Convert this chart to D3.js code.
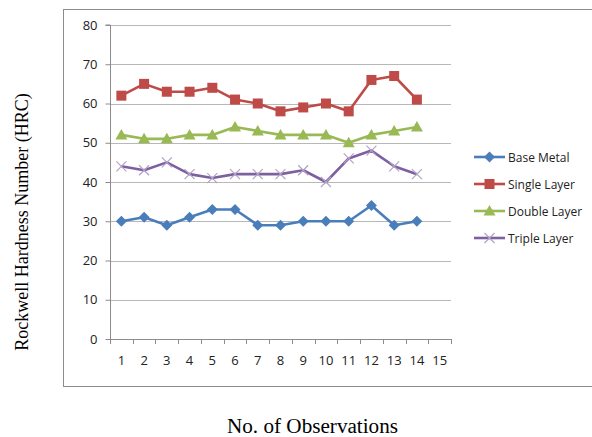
<!DOCTYPE html>
<html><head><meta charset="utf-8">
<script src="https://cdn.jsdelivr.net/npm/d3@7"></script>
<style>body{margin:0;background:#fff}svg{display:block}</style>
</head><body>
<svg id="c" width="592" height="437"></svg>
<script>
const categories = ["1","2","3","4","5","6","7","8","9","10","11","12","13","14","15"];
const yTicks = [0,10,20,30,40,50,60,70,80];
const seriesNames = ["Base Metal","Single Layer","Double Layer","Triple Layer"];
const baseMetal = [30,31,29,31,33,33,29,29,30,30,30,34,29,30];
const singleLayer = [62,65,63,63,64,61,60,58,59,60,58,66,67,61];
const doubleLayer = [52,51,51,52,52,54,53,52,52,52,50,52,53,54];
const tripleLayer = [44,43,45,42,41,42,42,42,43,40,46,48,44,42];

const series = [
  {name: seriesNames[0], values: baseMetal, color: "#4a7ebb", mcolor: "#4a7ebb", marker: "diamond"},
  {name: seriesNames[1], values: singleLayer, color: "#be4b48", mcolor: "#be4b48", marker: "square"},
  {name: seriesNames[2], values: doubleLayer, color: "#98b954", mcolor: "#98b954", marker: "triangle"},
  {name: seriesNames[3], values: tripleLayer, color: "#7d60a0", mcolor: "#b3a2c7", marker: "x"}
];

const svg = d3.select("#c");
svg.append("rect").attr("x",63.5).attr("y",9.5).attr("width",560).attr("height",377)
  .attr("fill","none").attr("stroke","#8c8c8c").attr("stroke-width",1);

const L=110, R=451, T=25, B=339;
const x = d3.scaleBand().domain(categories).range([L,R]);
const y = d3.scaleLinear().domain([0,80]).range([B,T]);
const tickFont = "'Open Sans', 'Liberation Sans', sans-serif";

svg.append("g").selectAll("line").data(yTicks.filter(d=>d>0)).join("line")
  .attr("x1",L).attr("x2",R).attr("y1",d=>Math.round(y(d))+0.5).attr("y2",d=>Math.round(y(d))+0.5)
  .attr("stroke","#b8b8b8");

const ya = svg.append("g").attr("transform",`translate(${L+0.5},0)`)
  .call(d3.axisLeft(y).tickValues(yTicks).tickSize(5).tickPadding(8));
ya.select(".domain").attr("stroke","#8c8c8c").attr("d",`M-5,${T}H0V${B}`);
ya.selectAll(".tick line").attr("stroke","#8c8c8c");
ya.selectAll(".tick text").attr("font-family",tickFont).attr("font-size","13px").attr("fill","#222");

const xa = svg.append("g").attr("transform",`translate(0,${B+0.5})`)
  .call(d3.axisBottom(x).tickSize(0).tickPadding(16));
xa.select(".domain").attr("stroke","#8c8c8c").attr("d",`M${L},0H${R}`);
xa.selectAll(".tick text").attr("font-family",tickFont).attr("font-size","13px").attr("fill","#222");
svg.append("g").selectAll("line").data(categories.concat(["end"])).join("line")
  .attr("x1",(d,i)=>Math.round(L+i*x.bandwidth())+0.5).attr("x2",(d,i)=>Math.round(L+i*x.bandwidth())+0.5)
  .attr("y1",B).attr("y2",B+5).attr("stroke","#8c8c8c");

const cx = i => x(categories[i]) + x.bandwidth()/2;

function drawMarker(g, type, px, py, col){
  if(type==="diamond"){
    g.append("path").attr("d",`M${px},${py-5.5}L${px+5.5},${py}L${px},${py+5.5}L${px-5.5},${py}Z`).attr("fill",col);
  } else if(type==="square"){
    g.append("rect").attr("x",px-5).attr("y",py-5).attr("width",10).attr("height",10).attr("fill",col);
  } else if(type==="triangle"){
    g.append("path").attr("d",`M${px},${py-6}L${px+6},${py+4.5}L${px-6},${py+4.5}Z`).attr("fill",col);
  } else {
    g.append("path").attr("d",`M${px-5},${py-5}L${px+5},${py+5}M${px-5},${py+5}L${px+5},${py-5}`)
      .attr("stroke",col).attr("stroke-width",1.2).attr("fill","none");
  }
}

const line = d3.line().x((d,i)=>cx(i)).y(d=>y(d));
series.forEach(s=>{
  const g = svg.append("g");
  g.append("path").attr("d",line(s.values)).attr("fill","none").attr("stroke",s.color)
    .attr("stroke-width",2.6).attr("stroke-linejoin","round");
  s.values.forEach((v,i)=>drawMarker(g,s.marker,cx(i),y(v),s.mcolor));
});

const legY = [157,184,211,238];
series.forEach((s,i)=>{
  const g = svg.append("g");
  g.append("line").attr("x1",474).attr("x2",505).attr("y1",legY[i]).attr("y2",legY[i])
    .attr("stroke",s.color).attr("stroke-width",2.6);
  drawMarker(g,s.marker,489.5,legY[i],s.mcolor);
  g.append("text").attr("x",508).attr("y",legY[i]+4.5).text(s.name)
    .attr("font-family",tickFont).attr("font-size","12px").attr("fill","#222");
});

svg.append("text").attr("x",227).attr("y",433)
  .attr("textLength",171).attr("lengthAdjust","spacingAndGlyphs")
  .attr("font-family","'Liberation Serif', serif").attr("font-size","20px").attr("fill","#000")
  .text("No. of Observations");
svg.append("text").attr("transform","translate(28,222) rotate(-90)").attr("text-anchor","middle")
  .attr("font-family","'Liberation Serif', serif").attr("font-size","18px").attr("fill","#000")
  .text("Rockwell Hardness Number (HRC)");
</script>
</body></html>
